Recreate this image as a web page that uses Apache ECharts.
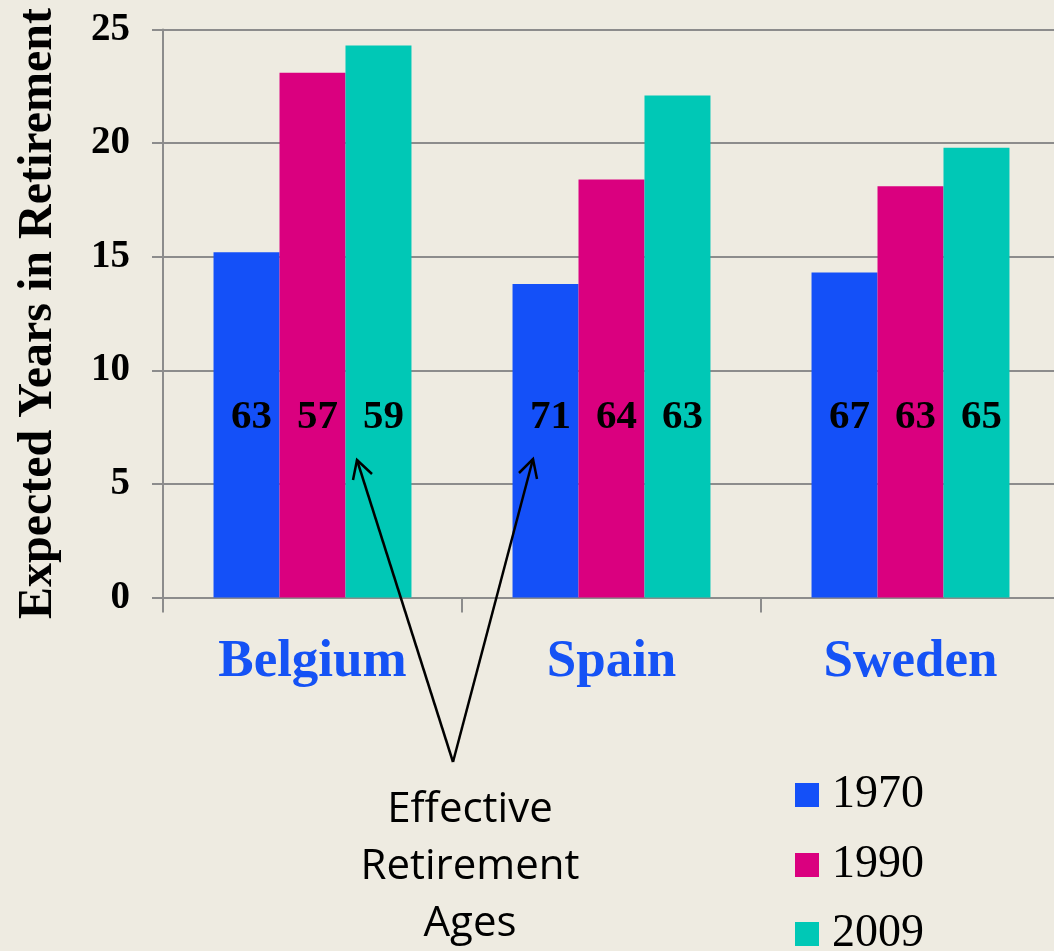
<!DOCTYPE html>
<html>
<head>
<meta charset="utf-8">
<script src="https://cdn.jsdelivr.net/npm/echarts@6/dist/echarts.min.js"></script>
<style>
  html, body { margin: 0; padding: 0; background: #EEEBE1; }
  #main { width: 1054px; height: 951px; }
</style>
</head>
<body>
<div id="main"></div>
<script>
// 国家 / 年份
var countries = ['Belgium', 'Spain', 'Sweden'];
var years = ['1970', '1990', '2009'];

// expected years in retirement
var yrs1970 = [15.2, 13.8, 14.3];
var yrs1990 = [23.1, 18.4, 18.1];
var yrs2009 = [24.3, 22.1, 19.8];

// effective retirement ages (printed inside bars)
var age1970 = [63, 71, 67];
var age1990 = [57, 64, 63];
var age2009 = [59, 63, 65];

var yTicks = [0, 5, 10, 15, 20, 25];

var colors = ['#1450F8', '#DA007F', '#00C8B6'];
var serif = 'Liberation Serif, Times New Roman, serif';

function qr_bars(echarts) {
    var myChart = echarts.init(document.getElementById('main'));

    function barLabel(ages) {
        return {
            show: true, position: 'insideBottom', distance: 160, offset: [5, 0],
            formatter: function (p) { return ages[p.dataIndex]; },
            color: '#000', fontFamily: serif, fontWeight: 'bold', fontSize: 41
        };
    }

    // one legend per year so the column doesn't wrap at the bottom edge
    function legendItem(name, top) {
        return {
            orient: 'vertical', left: 795, top: top, padding: 0,
            itemWidth: 24, itemHeight: 24, icon: 'rect',
            data: [name],
            textStyle: { fontFamily: serif, fontSize: 46, color: '#000', padding: [0, 0, 0, 8] }
        };
    }

    var option = {
        backgroundColor: '#EEEBE1',
        animation: false,
        color: colors,
        grid: { left: 163, right: -6, top: 29.5, bottom: 353.5, containLabel: false, outerBoundsMode: 'none' },
        legend: [
            legendItem(years[0], 772),
            legendItem(years[1], 842),
            legendItem(years[2], 911)
        ],
        xAxis: {
            type: 'category', data: countries,
            axisLine: { lineStyle: { color: '#8C8C8C', width: 2 } },
            axisTick: { show: true, length: 15, lineStyle: { color: '#8C8C8C', width: 2 } },
            axisLabel: { margin: 38, color: '#1552F5', fontFamily: serif, fontWeight: 'bold', fontSize: 53 }
        },
        yAxis: {
            type: 'value', min: yTicks[0], max: yTicks[yTicks.length - 1], interval: 5,
            name: 'Expected Years in Retirement', nameLocation: 'middle', nameGap: 100, nameRotate: 90,
            nameTextStyle: { fontFamily: serif, fontWeight: 'bold', fontSize: 48, color: '#000' },
            axisLine: { show: true, lineStyle: { color: '#8C8C8C', width: 2 } },
            axisTick: { show: true, length: 11, lineStyle: { color: '#8C8C8C', width: 2 } },
            splitLine: { show: true, lineStyle: { color: '#8C8C8C', width: 2 } },
            axisLabel: { margin: 33, color: '#000', fontFamily: serif, fontWeight: 'bold', fontSize: 39 }
        },
        series: [
            { name: years[0], type: 'bar', data: yrs1970, barGap: '0%', barCategoryGap: '33.8%', label: barLabel(age1970) },
            { name: years[1], type: 'bar', data: yrs1990, barGap: '0%', barCategoryGap: '33.8%', label: barLabel(age1990) },
            { name: years[2], type: 'bar', data: yrs2009, barGap: '0%', barCategoryGap: '33.8%', label: barLabel(age2009) }
        ],
        graphic: [
            // annotation text
            { type: 'text', z: 100, left: 470 - 120, top: 782, style: {
                text: 'Effective\nRetirement\nAges', width: 240, align: 'center',
                x: 120, textAlign: 'center',
                font: '42px "Open Sans", sans-serif', lineHeight: 57, fill: '#000' } },
            // arrows
            { type: 'line', z: 100, shape: { x1: 453, y1: 762, x2: 357, y2: 460 }, style: { stroke: '#000', lineWidth: 2.5 } },
            { type: 'line', z: 100, shape: { x1: 453, y1: 762, x2: 533, y2: 459 }, style: { stroke: '#000', lineWidth: 2.5 } },
            { type: 'polyline', z: 100, shape: { points: [[353, 480], [357, 460], [372, 474]] }, style: { stroke: '#000', lineWidth: 2.5, fill: null } },
            { type: 'polyline', z: 100, shape: { points: [[519, 473], [533, 459], [537, 479]] }, style: { stroke: '#000', lineWidth: 2.5, fill: null } }
        ]
    };
    myChart.setOption(option);
    window.addEventListener("resize", function() { myChart.resize(); });
}

qr_bars(echarts);
</script>
</body>
</html>
